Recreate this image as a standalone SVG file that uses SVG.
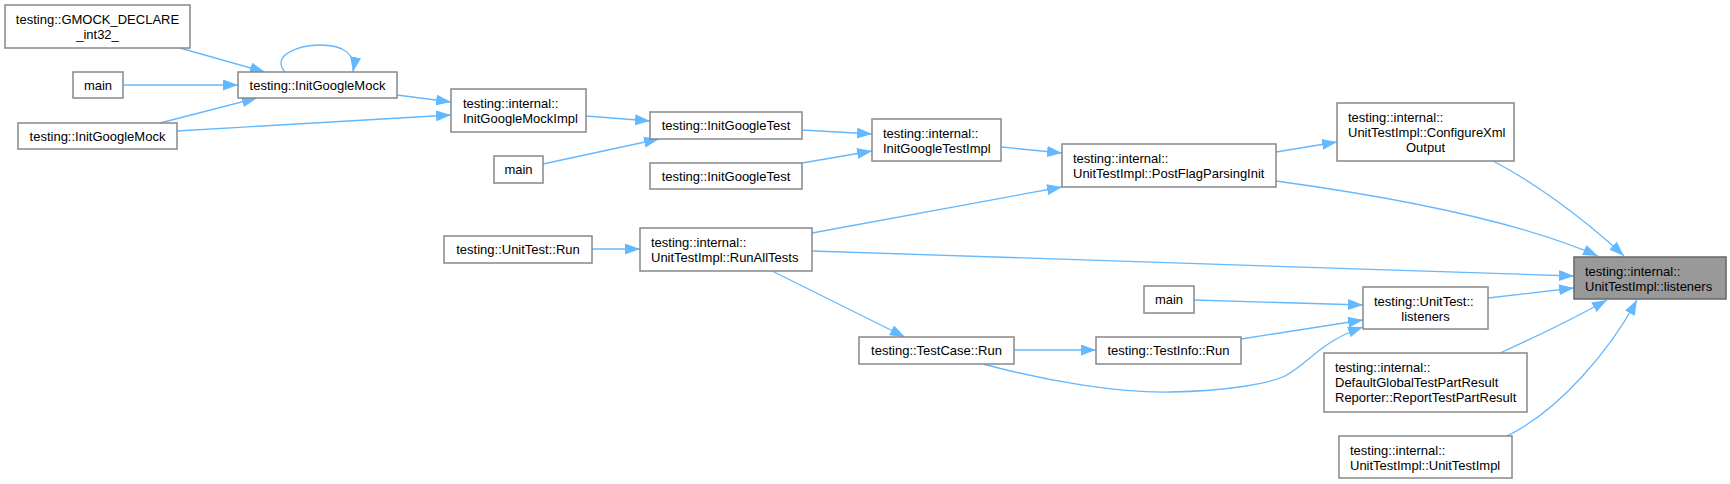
<svg xmlns="http://www.w3.org/2000/svg" width="1730" height="484" viewBox="0 0 1730 484">
<style>
.n rect{fill:#ffffff;stroke:#888888;stroke-width:1.5}
.n.t rect{fill:#999999;stroke:#666666}
text{font-family:"Liberation Sans",Arial,sans-serif;font-size:13px;fill:#000000}
.c{text-anchor:middle}
#edges path{fill:none;stroke:#63b8ff;stroke-width:1.3}
</style>
<defs>
<marker id="ah" markerUnits="userSpaceOnUse" markerWidth="15" markerHeight="11" refX="15" refY="5.5" orient="auto">
<path d="M0,0 L15,5.5 L0,11 z" fill="#63b8ff" stroke="none"/>
</marker>
</defs>
<rect width="1730" height="484" fill="#ffffff"/>
<g id="edges">
<path d="M180,48 L265,72" marker-end="url(#ah)"/>
<path d="M123,85 L238,85" marker-end="url(#ah)"/>
<path d="M160,123 L257,98" marker-end="url(#ah)"/>
<path d="M285,72 C270,55 300,45 320,45 C345,45 356,55 353,72" marker-end="url(#ah)"/>
<path d="M397,95 L451,102" marker-end="url(#ah)"/>
<path d="M177,131 L451,115" marker-end="url(#ah)"/>
<path d="M586,116 L650,121" marker-end="url(#ah)"/>
<path d="M543,164 L659,139" marker-end="url(#ah)"/>
<path d="M802,130 L872,134" marker-end="url(#ah)"/>
<path d="M802,163 L872,151" marker-end="url(#ah)"/>
<path d="M1001,147 L1062,153" marker-end="url(#ah)"/>
<path d="M812,233 L1062,187" marker-end="url(#ah)"/>
<path d="M592,249 L640,249" marker-end="url(#ah)"/>
<path d="M772,271 L905,337" marker-end="url(#ah)"/>
<path d="M1014,350 L1096,350" marker-end="url(#ah)"/>
<path d="M1194,300 L1363,305" marker-end="url(#ah)"/>
<path d="M1241,339 L1363,320" marker-end="url(#ah)"/>
<path d="M983,364 C1050,382 1120,393 1170,392 C1230,391 1270,383 1285,376 C1310,362 1320,342 1363,327" marker-end="url(#ah)"/>
<path d="M1276,152 L1337,142" marker-end="url(#ah)"/>
<path d="M1493,161 C1530,180 1580,215 1624,256" marker-end="url(#ah)"/>
<path d="M1276,181 C1400,198 1520,222 1598,256" marker-end="url(#ah)"/>
<path d="M812,251 L1574,276" marker-end="url(#ah)"/>
<path d="M1488,298 L1574,288" marker-end="url(#ah)"/>
<path d="M1500,353 C1540,335 1580,315 1607,300" marker-end="url(#ah)"/>
<path d="M1507,436 C1560,410 1610,350 1637,300" marker-end="url(#ah)"/>
</g>
<g id="n_gmock" class="n"><rect x="5" y="5" width="185" height="43"/><text x="97.5" y="23.5" class="c">testing::GMOCK_DECLARE</text><text x="97.5" y="38.5" class="c">_int32_</text></g>
<g id="n_igm_a" class="n"><rect x="238" y="72" width="159" height="26"/><text x="317.5" y="89.5" class="c">testing::InitGoogleMock</text></g>
<g id="n_main1" class="n"><rect x="73" y="72" width="50" height="26"/><text x="98" y="89.5" class="c">main</text></g>
<g id="n_igm_b" class="n"><rect x="18" y="123" width="159" height="26"/><text x="97.5" y="140.5" class="c">testing::InitGoogleMock</text></g>
<g id="n_igmimpl" class="n"><rect x="451" y="89" width="135" height="43"/><text x="463" y="107.5">testing::internal::</text><text x="463" y="122.5">InitGoogleMockImpl</text></g>
<g id="n_igt_a" class="n"><rect x="650" y="112" width="152" height="27"/><text x="726" y="130" class="c">testing::InitGoogleTest</text></g>
<g id="n_main2" class="n"><rect x="494" y="156" width="49" height="27"/><text x="518.5" y="174" class="c">main</text></g>
<g id="n_igt_b" class="n"><rect x="650" y="163" width="152" height="26"/><text x="726" y="180.5" class="c">testing::InitGoogleTest</text></g>
<g id="n_utrun" class="n"><rect x="444" y="236" width="148" height="27"/><text x="518" y="254" class="c">testing::UnitTest::Run</text></g>
<g id="n_runall" class="n"><rect x="640" y="228" width="172" height="43"/><text x="651" y="246.5">testing::internal::</text><text x="651" y="261.5">UnitTestImpl::RunAllTests</text></g>
<g id="n_igtimpl" class="n"><rect x="872" y="119" width="129" height="42"/><text x="883" y="137.5">testing::internal::</text><text x="883" y="152.5">InitGoogleTestImpl</text></g>
<g id="n_postflag" class="n"><rect x="1062" y="144" width="214" height="43"/><text x="1073" y="162.5">testing::internal::</text><text x="1073" y="177.5">UnitTestImpl::PostFlagParsingInit</text></g>
<g id="n_main3" class="n"><rect x="1144" y="286" width="50" height="27"/><text x="1169" y="304" class="c">main</text></g>
<g id="n_tcrun" class="n"><rect x="859" y="337" width="155" height="27"/><text x="936.5" y="355" class="c">testing::TestCase::Run</text></g>
<g id="n_tirun" class="n"><rect x="1096" y="337" width="145" height="27"/><text x="1168.5" y="355" class="c">testing::TestInfo::Run</text></g>
<g id="n_cfgxml" class="n"><rect x="1337" y="103" width="177" height="58"/><text x="1348" y="121.5">testing::internal::</text><text x="1348" y="136.5">UnitTestImpl::ConfigureXml</text><text x="1425.5" y="151.5" class="c">Output</text></g>
<g id="n_listeners" class="n t"><rect x="1574" y="257" width="152" height="42"/><text x="1585" y="275.5">testing::internal::</text><text x="1585" y="290.5">UnitTestImpl::listeners</text></g>
<g id="n_utlisteners" class="n"><rect x="1363" y="287" width="125" height="42"/><text x="1374" y="305.5">testing::UnitTest::</text><text x="1425.5" y="320.5" class="c">listeners</text></g>
<g id="n_defglobal" class="n"><rect x="1324" y="353" width="203" height="59"/><text x="1335" y="371.5">testing::internal::</text><text x="1335" y="386.5">DefaultGlobalTestPartResult</text><text x="1335" y="401.5">Reporter::ReportTestPartResult</text></g>
<g id="n_utimpl" class="n"><rect x="1339" y="436" width="173" height="42"/><text x="1350" y="454.5">testing::internal::</text><text x="1350" y="469.5">UnitTestImpl::UnitTestImpl</text></g>
</svg>
